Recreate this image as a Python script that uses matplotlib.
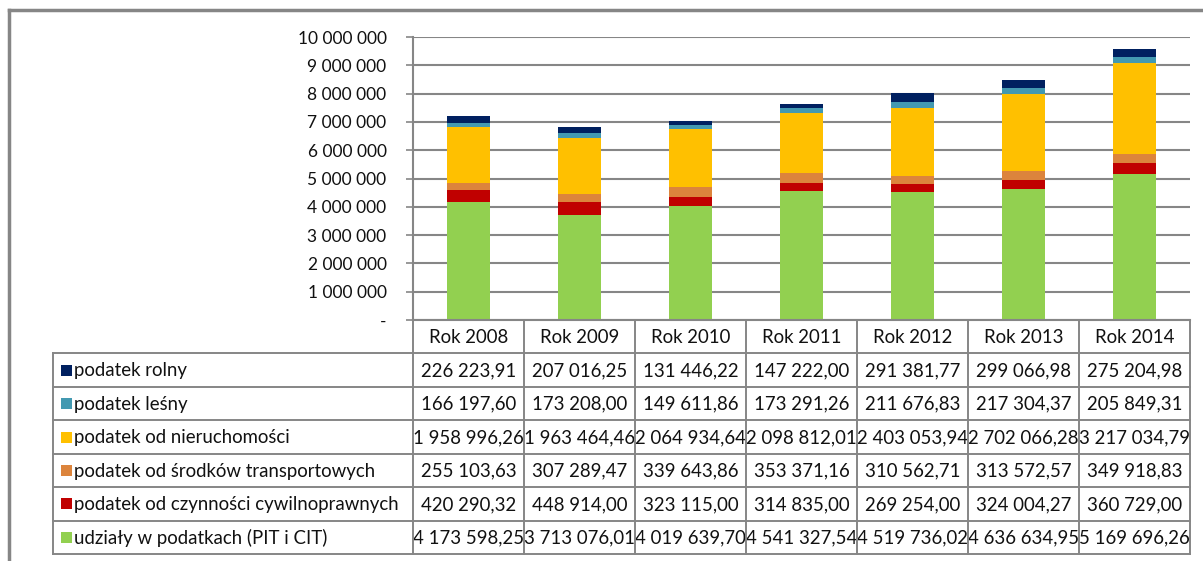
import matplotlib
matplotlib.use("Agg")
import matplotlib.pyplot as plt
from matplotlib.patches import Rectangle
from matplotlib.lines import Line2D
from matplotlib.ticker import FuncFormatter, MultipleLocator
from matplotlib.transforms import Bbox, TransformedBbox
import numpy as np

# --- data -------------------------------------------------------------
years = ["Rok 2008", "Rok 2009", "Rok 2010", "Rok 2011", "Rok 2012", "Rok 2013", "Rok 2014"]

# table rows, top to bottom
row_labels = [
    "podatek rolny",
    "podatek leśny",
    "podatek od nieruchomości",
    "podatek od środków transportowych",
    "podatek od czynności cywilnoprawnych",
    "udziały w podatkach (PIT i CIT)",
]
row_colors = ["#002060", "#4399B1", "#FFC000", "#DC843C", "#C00000", "#92D050"]

podatek_rolny = [226223.91, 207016.25, 131446.22, 147222.00, 291381.77, 299066.98, 275204.98]
podatek_lesny = [166197.60, 173208.00, 149611.86, 173291.26, 211676.83, 217304.37, 205849.31]
podatek_nieruchomosci = [1958996.26, 1963464.46, 2064934.64, 2098812.01, 2403053.94, 2702066.28, 3217034.79]
podatek_transport = [255103.63, 307289.47, 339643.86, 353371.16, 310562.71, 313572.57, 349918.83]
podatek_czynnosci = [420290.32, 448914.00, 323115.00, 314835.00, 269254.00, 324004.27, 360729.00]
udzialy_pit_cit = [4173598.25, 3713076.01, 4019639.70, 4541327.54, 4519736.02, 4636634.95, 5169696.26]

rows = [podatek_rolny, podatek_lesny, podatek_nieruchomosci,
        podatek_transport, podatek_czynnosci, udzialy_pit_cit]

# --- style ------------------------------------------------------------
FONT = ["Lato", "DejaVu Sans"]
plt.rcParams["font.family"] = FONT
TXT = "#111111"
GRID = "#868686"
FS_TICK = 12.5
FS_TAB = 13.4

W, H = 1203, 561
fig = plt.figure(figsize=(W / 100, H / 100), dpi=100)


def fx(px):
    return px / W


def fy(py):
    return 1 - py / H


x_axis_left, x_axis_right = 413, 1190
y_top, y_zero, y_table_bottom = 37, 320, 554

# --- stacked columns --------------------------------------------------
ax = fig.add_axes([fx(x_axis_left), fy(y_zero), fx(x_axis_right - x_axis_left),
                   (y_zero - y_top) / H])
n = len(years)
xs = np.arange(n)
bottom = np.zeros(n)
for vals, color in zip(rows[::-1], row_colors[::-1]):
    ax.bar(xs, vals, width=0.39, bottom=bottom, color=color, linewidth=0, zorder=3)
    bottom += np.array(vals)

ax.set_xlim(-0.5, n - 0.5)
ax.set_ylim(0, 10_000_000)
ax.yaxis.set_major_locator(MultipleLocator(1_000_000))


def fmt(v, _pos=None):
    if v == 0:
        return "-"
    return f"{int(round(v)):,}".replace(",", " ")


ax.yaxis.set_major_formatter(FuncFormatter(fmt))
ax.tick_params(axis="y", length=5, width=1.2, color=GRID, labelsize=FS_TICK,
               labelcolor=TXT, pad=14)
ax.set_xticks([])
ax.grid(axis="y", color=GRID, linewidth=1.5, zorder=0)
for s in ["top", "right", "bottom"]:
    ax.spines[s].set_visible(False)
ax.spines["left"].set_color(GRID)
ax.spines["left"].set_linewidth(1.5)

# --- data table -------------------------------------------------------
unit = (x_axis_right - x_axis_left) / n
x_tab_left = 53
tab = fig.add_axes([fx(x_tab_left), fy(y_table_bottom), fx(x_axis_right - x_tab_left),
                    (y_table_bottom - y_zero) / H])
left_units = -0.5 - (x_axis_left - x_tab_left) / unit
n_rows = len(row_labels) + 1
tab.set_xlim(left_units, n - 0.5)
tab.set_ylim(n_rows, 0)
tab.axis("off")

lw = 1.4
# header row: only column separators and the right edge
for i in range(n + 1):
    tab.plot([i - 0.5, i - 0.5], [0, n_rows], color=GRID, lw=lw, clip_on=False, zorder=5)
# body horizontal lines span the label column as well
for r in range(1, n_rows + 1):
    tab.plot([left_units, n - 0.5], [r, r], color=GRID, lw=lw, clip_on=False, zorder=5)
tab.plot([left_units, left_units], [1, n_rows], color=GRID, lw=lw, clip_on=False, zorder=5)
tab.plot([-0.5, n - 0.5], [0, 0], color=GRID, lw=1.5, clip_on=False, zorder=5)

for i, y in enumerate(years):
    tab.text(i, 0.52, y, ha="center", va="center", fontsize=FS_TAB, color=TXT)

sq_w = 11 / unit
sq_h = 11 / ((y_table_bottom - y_zero) / n_rows)
for r, (label, color, vals) in enumerate(zip(row_labels, row_colors, rows), start=1):
    yc = r + 0.52
    tab.add_patch(Rectangle((left_units + 8 / unit, r + 0.5 - sq_h / 2), sq_w, sq_h,
                            facecolor=color, edgecolor="none"))
    tab.text(left_units + 21 / unit, yc, label, ha="left", va="center",
             fontsize=FS_TAB, color=TXT)
    for i, v in enumerate(vals):
        txt = f"{v:,.2f}".replace(",", " ").replace(".", ",")
        t = tab.text(i, yc, txt, ha="center", va="center", fontsize=FS_TAB, color=TXT)
        cell = TransformedBbox(Bbox([[i - 0.5, r], [i + 0.5, r + 1]]), tab.transData)
        t.set_clip_box(cell)
        t.set_clip_on(True)

# outer chart frame (top and left edges visible)
fig.add_artist(Line2D([fx(9), 1], [fy(10), fy(10)], color=GRID, lw=2.5))
fig.add_artist(Line2D([fx(9), fx(9)], [fy(10), 0], color=GRID, lw=2.5))

fig.savefig("out.png", dpi=100, facecolor="white")
